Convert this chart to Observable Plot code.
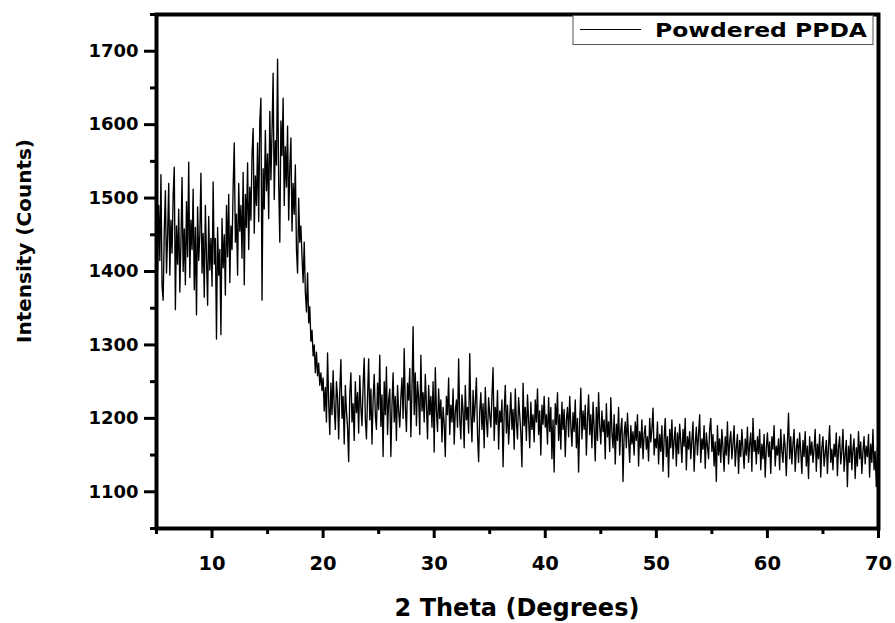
<!DOCTYPE html>
<html><head><meta charset="utf-8">
<script src="https://cdn.jsdelivr.net/npm/d3@7"></script>
<script src="https://cdn.jsdelivr.net/npm/@observablehq/plot@0.6"></script>
<style>body{margin:0;background:#fff}#chart{width:895px;height:623px}</style>
</head><body><div id="chart"></div>
<script>
// 2θ grid: start 5°, step 0.1° (one row = one degree)
const thetaStart = 5;
const thetaStep = 0.1;
const intensity = [
1468,1402,1490,1415,1532,1380,1361,1455,1510,1398,
1448,1520,1395,1470,1425,1505,1542,1348,1462,1410,
1485,1372,1440,1528,1400,1458,1382,1495,1420,1549,
1392,1470,1430,1512,1375,1460,1341,1488,1415,1450,
1534,1398,1452,1365,1490,1420,1354,1475,1402,1445,
1380,1522,1410,1445,1308,1460,1395,1430,1314,1472,
1405,1450,1368,1490,1420,1505,1385,1462,1430,1515,
1575,1440,1478,1395,1520,1455,1490,1418,1535,1382,
1505,1460,1548,1430,1515,1470,1560,1595,1452,1530,
1490,1575,1468,1605,1636,1361,1540,1485,1592,1510,
1560,1472,1618,1525,1590,1670,1498,1578,1545,1689,
1520,1440,1605,1558,1636,1490,1570,1515,1598,1470,
1540,1582,1455,1520,1478,1545,1430,1398,1500,1440,
1462,1420,1385,1440,1372,1345,1398,1330,1352,1305,
1320,1285,1300,1262,1290,1258,1275,1245,1262,1238,
1255,1210,1242,1195,1289,1222,1178,1248,1205,1265,
1215,1185,1250,1228,1172,1238,1280,1200,1230,1165,
1245,1210,1188,1141,1232,1262,1195,1220,1170,1250,
1208,1235,1180,1258,1215,1190,1245,1282,1200,1172,
1230,1281,1198,1240,1165,1225,1260,1205,1185,1248,
1212,1286,1189,1232,1148,1250,1205,1270,1178,1225,
1240,1148,1218,1262,1195,1230,1170,1245,1210,1188,
1228,1255,1200,1295,1215,1182,1248,1225,1268,1175,
1240,1325,1205,1262,1190,1250,1228,1178,1286,1210,
1235,1195,1260,1218,1172,1245,1205,1230,1188,1250,
1154,1269,1210,1182,1240,1200,1225,1168,1215,1192,
1148,1230,1205,1255,1178,1218,1195,1240,1165,1210,
1225,1188,1281,1200,1172,1232,1210,1160,1245,1198,
1215,1180,1288,1205,1168,1238,1195,1222,1255,1178,
1141,1210,1235,1185,1220,1160,1242,1198,1175,1228,
1205,1188,1230,1269,1170,1215,1192,1238,1158,1210,
1195,1225,1134,1208,1245,1180,1218,1165,1200,1235,
1185,1212,1158,1240,1195,1172,1228,1205,1180,1134,
1248,1190,1215,1170,1232,1198,1160,1222,1185,1205,
1168,1225,1195,1240,1178,1210,1150,1218,1192,1230,
1188,1205,1165,1228,1182,1215,1145,1198,1127,1220,
1192,1235,1170,1205,1158,1222,1185,1212,1148,1198,
1215,1175,1230,1190,1162,1208,1182,1225,1160,1200,
1127,1195,1241,1172,1210,1185,1218,1150,1198,1232,
1178,1205,1160,1222,1188,1142,1215,1170,1235,1190,
1165,1210,1182,1198,1145,1220,1175,1195,1155,1228,
1180,1160,1205,1138,1192,1170,1215,1150,1185,1200,
1114,1178,1195,1160,1207,1172,1140,1190,1165,1182,
1150,1195,1170,1205,1135,1182,1160,1198,1145,1178,
1190,1158,1175,1142,1200,1168,1185,1214,1150,1172,
1160,1195,1138,1178,1155,1190,1128,1172,1200,1148,
1175,1120,1185,1160,1198,1145,1170,1188,1135,1180,
1152,1192,1168,1140,1185,1162,1200,1130,1175,1158,
1182,1145,1170,1195,1128,1165,1188,1150,1178,1205,
1140,1172,1158,1190,1132,1180,1162,1145,1185,1200,
1155,1178,1135,1168,1114,1190,1150,1172,1140,1185,
1160,1128,1175,1150,1195,1138,1168,1182,1145,1165,
1190,1135,1160,1178,1125,1170,1148,1185,1158,1132,
1172,1150,1188,1140,1165,1180,1128,1200,1155,1170,
1138,1175,1152,1185,1130,1165,1145,1178,1120,1160,
1180,1148,1168,1125,1175,1158,1190,1135,1162,1150,
1172,1130,1185,1155,1140,1178,1160,1122,1168,1207,
1145,1175,1138,1165,1185,1128,1158,1172,1140,1180,
1155,1125,1170,1148,1182,1135,1162,1118,1175,1150,
1168,1140,1158,1185,1128,1165,1145,1178,1120,1160,
1175,1135,1152,1170,1125,1162,1190,1140,1158,1130,
1165,1148,1180,1122,1160,1175,1138,1155,1185,1128,
1150,1170,1107,1162,1140,1178,1130,1158,1172,1118,
1160,1135,1182,1145,1168,1125,1155,1175,1138,1162,
1148,1178,1120,1165,1140,1185,1130,1155,1107,1160,
1105
];
const xMajor = [10,20,30,40,50,60,70];
const xMinor = [5,15,25,35,45,55,65];
const yMajor = [1100,1200,1300,1400,1500,1600,1700];
const yMinor = [1050,1150,1250,1350,1450,1550,1650,1750];
const xLabel = "2 Theta (Degrees)";
const yLabel = "Intensity (Counts)";
const seriesName = "Powdered PPDA";

const data = intensity.map((v, i) => ({theta: +(thetaStart + i * thetaStep).toFixed(1), counts: v}));

const W = 895, H = 623;
const mL = 156, mR = 17, mT = 14, mB = 95;
const tickFont = {fontFamily: "DejaVu Sans", fontWeight: "bold"};

const svg = Plot.plot({
  width: W, height: H,
  marginLeft: mL, marginRight: mR, marginTop: mT, marginBottom: mB,
  style: {background: "#fff", color: "#000", overflow: "visible"},
  x: {domain: [5, 70]},
  y: {domain: [1050, 1750]},
  marks: [
    Plot.axisX(xMinor, {tickSize: 6, strokeWidth: 3, tickFormat: () => "", label: null}),
    Plot.axisX(xMajor, {tickSize: 10, tickPadding: 18, strokeWidth: 3, fontSize: 19.5, ...tickFont, label: null}),
    Plot.axisY(yMinor, {tickSize: 6, strokeWidth: 3, tickFormat: () => "", label: null}),
    Plot.axisY(yMajor, {tickSize: 12, tickPadding: 6, strokeWidth: 3, fontSize: 18, ...tickFont, tickFormat: d => String(d), label: null}),
    Plot.line(data, {x: "theta", y: "counts", stroke: "black", strokeWidth: 1.35}),
    Plot.frame({stroke: "black", strokeWidth: 4})
  ]
});

const s = d3.select(svg);
// axis titles
s.append("text").text(xLabel)
  .attr("x", (mL + W - mR) / 2).attr("y", 608)
  .attr("text-anchor", "middle").attr("dominant-baseline", "central")
  .attr("font-family", "DejaVu Sans").attr("font-weight", "bold").attr("font-size", 24);
s.append("text").text(yLabel)
  .attr("transform", "translate(24,241) rotate(-90)")
  .attr("text-anchor", "middle").attr("dominant-baseline", "central")
  .attr("font-family", "DejaVu Sans").attr("font-weight", "bold").attr("font-size", 20);
// legend
const lg = s.append("g").attr("text-anchor", "start");
lg.append("rect").attr("x", 573).attr("y", 15.5).attr("width", 300).attr("height", 29)
  .attr("fill", "#fff").attr("stroke", "#555").attr("stroke-width", 1);
lg.append("line").attr("x1", 580).attr("x2", 641).attr("y1", 29.5).attr("y2", 29.5)
  .attr("stroke", "#000").attr("stroke-width", 1);
lg.append("text").text(seriesName).attr("x", 655).attr("y", 30)
  .attr("text-anchor", "start").attr("dominant-baseline", "central")
  .attr("font-family", "DejaVu Sans").attr("font-weight", "bold").attr("font-size", 20)
  .attr("textLength", 212).attr("lengthAdjust", "spacingAndGlyphs");

document.getElementById("chart").appendChild(svg);
</script></body></html>
